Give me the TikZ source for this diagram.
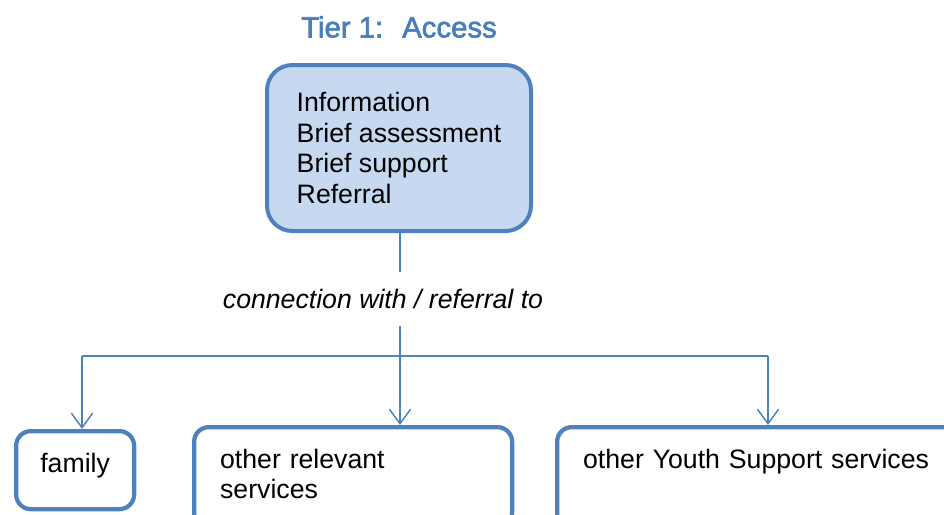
\documentclass[tikz,border=0pt]{standalone}
\usepackage{fontspec}
\setmainfont{Liberation Sans}
\usetikzlibrary{positioning,arrows.meta,calc}

\definecolor{tierBlue}{HTML}{4F81BD}
\definecolor{tierFill}{HTML}{C6D9F1}
\definecolor{titleBlue}{HTML}{4A7EBB}

\begin{document}
\begin{tikzpicture}[
    x=0.75pt, y=-0.75pt,
    font=\fontsize{20pt}{22.9pt}\selectfont,
    tierbox/.style={draw=tierBlue,fill=tierFill,line width=3pt,rounded corners=19pt,align=left},
    svcbox/.style ={draw=tierBlue,fill=white,line width=3.2pt,rounded corners=11pt,anchor=north west,
                    inner ysep=0pt,text height=41*0.75pt},
    title/.style  ={font=\fontsize{22pt}{24pt}\selectfont\addfontfeature{FakeBold=2.2},text=titleBlue},
    lbl/.style    ={font=\fontsize{20pt}{22.9pt}\selectfont\itshape,fill=white,minimum height=40pt,inner xsep=2pt},
    conn/.style   ={draw=tierBlue,line width=1.1pt},
    arrow/.style  ={conn,-{Straight Barb[length=11pt,width=16pt,line width=1.1pt]}},
]

% ---------- Page (cut off at right and bottom, as in the reference) ----------
\clip (0,0) rectangle (944,514);

% ---------- Parameters (in px of the reference) ----------
\def\boxH{100}   % height of the lower boxes (cut by the page)
\def\busY{356}   % height of the horizontal line

% ---------- Tier 1 ----------
\node[title] (TIER) at (399,27) {Tier 1:~ Access};

\node[tierbox, minimum width=264*0.75pt, minimum height=166*0.75pt] (ACC) at (399,148)
  {Information\\Brief assessment\\Brief support\\Referral};

% ---------- Services ----------
\node[svcbox, minimum width=118*0.75pt, minimum height=78*0.75pt, text depth=37*0.75pt]
  (FAM) at (14,429) {family};

\node[svcbox, minimum width=318*0.75pt, minimum height=\boxH*0.75pt,
      text width=266*0.75pt, align=left, inner xsep=26*0.75pt, text depth=59*0.75pt]
  (REL) at (192,425) {other relevant\\services};

\node[svcbox, minimum width=420*0.75pt, minimum height=\boxH*0.75pt,
      text width=368*0.75pt, align=left, inner xsep=26*0.75pt, text depth=59*0.75pt]
  (YTH) at (555,425) {other Youth Support services};

% ---------- Connectors ----------
\coordinate (hub) at (400,\busY);
\coordinate (lft) at (82,\busY);
\coordinate (rgt) at (768,\busY);

\draw[conn] (ACC.south -| hub) -- (hub);
\node[lbl] (CONN) at (383,299) {connection with / referral to};

\draw[conn] (lft) -- (rgt);
\draw[arrow] (lft) -- (lft |- FAM.north);
\draw[arrow] (hub) -- (hub |- REL.north);
\draw[arrow] (rgt) -- (rgt |- YTH.north);

\end{tikzpicture}
\end{document}
